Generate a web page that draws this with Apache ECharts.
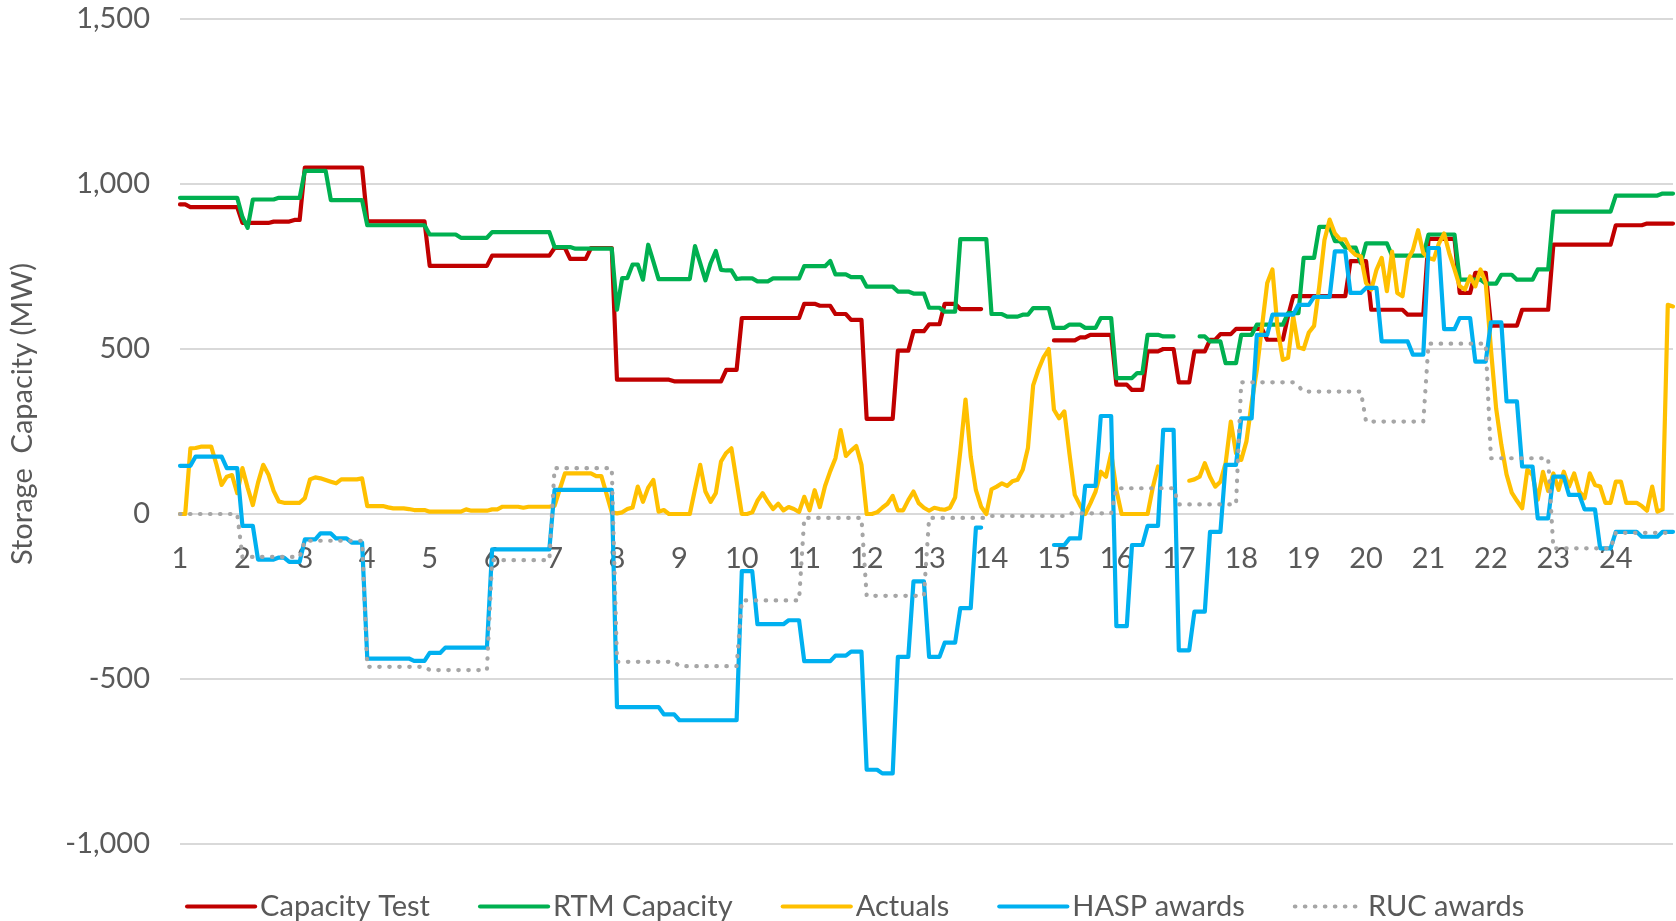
<!DOCTYPE html>
<html>
<head>
<meta charset="utf-8">
<title>Storage Capacity</title>
<script src="https://cdn.jsdelivr.net/npm/echarts@6/dist/echarts.min.js"></script>
<style>
    html, body { margin: 0; padding: 0; background: #ffffff; }
    #chart { width: 1676px; height: 921px; }
</style>
</head>
<body>
<div id="chart"></div>
<script>
// 5-minute intervals for hour ending 1..24
var hours = [1, 2, 3, 4, 5, 6, 7, 8, 9, 10, 11, 12, 13, 14, 15, 16, 17, 18, 19, 20, 21, 22, 23, 24];
var minutes = ['00', '05', '10', '15', '20', '25', '30', '35', '40', '45', '50', '55'];
var yTicks = [-1000, -500, 0, 500, 1000, 1500];

// step series kept as [value, number of 5-min points]
var capacityTestRuns = [
    [938, 2], [930, 10], [882, 6], [886, 4], [891, 2], [1050, 12], [887, 12], [752, 12], [783, 12],
    [806, 3], [773, 4], [806, 5], [407, 11], [402, 10], [437, 3], [594, 12], [637, 3], [631, 3],
    [606, 3], [588, 3], [288, 6], [495, 3], [554, 3], [575, 3], [637, 3], [621, 5], [null, 13],
    [526, 5], [535, 2], [543, 5], [392, 3], [376, 3], [493, 3], [500, 3], [399, 3], [493, 3],
    [528, 2], [545, 3], [561, 6], [528, 4], [600, 1], [660, 11], [766, 4], [619, 7], [604, 4],
    [834, 6], [670, 3], [731, 3], [571, 6], [619, 6], [816, 12], [875, 6], [880, 6]
];

var rtmCapacityRuns = [
    [958, 12], [900, 1], [867, 1], [953, 5], [958, 5], [1040, 5], [951, 7], [875, 12], [847, 6],
    [837, 6], [854, 12], [809, 4], [804, 8],
    [619, 1], [715, 2], [756, 2], [710, 1], [816, 1], [765, 1], [712, 7], [812, 1], [760, 1],
    [708, 1], [760, 1], [797, 1], [740, 1], [738, 2], [712, 1],
    [714, 3], [705, 3], [714, 6], [751, 5], [767, 1], [726, 3], [718, 3], [689, 6], [674, 3],
    [668, 3], [625, 3], [613, 3], [833, 6], [606, 3], [598, 3], [604, 2], [624, 4], [564, 3],
    [574, 3], [564, 3], [594, 3], [412, 4], [427, 2], [543, 3], [538, 3], [null, 4], [538, 2],
    [523, 3], [457, 3], [543, 3], [574, 6], [609, 3], [776, 3], [870, 3], [827, 2], [807, 3],
    [760, 1], [820, 5], [783, 7], [847, 6], [710, 5], [698, 3], [725, 3], [710, 4], [741, 3],
    [916, 12], [965, 9], [971, 3]
];

// one row per hour, 12 points each
var actuals = [
    0, 0, 199, 200, 204, 204, 204, 150, 88, 113, 118, 63,
    139, 80, 27, 95, 149, 120, 70, 38, 34, 34, 34, 34,
    48, 105, 111, 108, 103, 98, 93, 105, 105, 105, 105, 108,
    24, 24, 24, 24, 20, 17, 17, 17, 15, 12, 12, 12,
    7, 7, 7, 7, 7, 7, 7, 14, 10, 10, 10, 10,
    14, 14, 22, 22, 22, 22, 19, 22, 22, 22, 22, 22,
    25, 75, 123, 123, 123, 123, 123, 123, 115, 115, 60, 5,
    2, 5, 15, 20, 83, 37, 80, 103, 7, 12, 0, 0,
    0, 0, 0, 75, 149, 68, 37, 63, 159, 185, 199, 99,
    0, 0, 5, 40, 63, 37, 15, 31, 11, 21, 15, 6,
    52, 11, 72, 21, 85, 130, 169, 254, 176, 192, 206, 149,
    0, 0, 5, 19, 31, 55, 11, 11, 42, 68, 33, 19,
    10, 19, 15, 13, 19, 50, 190, 347, 174, 72, 22, 0,
    75, 83, 93, 85, 99, 104, 134, 200, 390, 437, 475, 500,
    316, 290, 311, 180, 58, 27, 0, 32, 68, 128, 113, 184,
    73, 0, 0, 0, 0, 0, 0, 80, 144, null, null, null,
    null, null, 101, 105, 113, 154, 113, 83, 98, 154, 280, 184,
    164, 220, 336, 437, 569, 700, 741, 560, 467, 473, 599, 505,
    500, 550, 570, 690, 830, 892, 850, 832, 832, 800, 785, 781,
    700, 680, 740, 776, 675, 795, 670, 660, 770, 800, 860, 791,
    776, 771, 820, 850, 790, 741, 690, 680, 720, 690, 741, 700,
    500, 320, 210, 120, 65, 40, 17, 134, 118, 43, 128, 70,
    123, 73, 128, 83, 123, 68, 48, 123, 88, 83, 34, 34,
    98, 98, 34, 34, 34, 24, 10, 83, 7, 14, 634, 629
];

var haspAwardsRuns = [
    [146, 3], [174, 6], [139, 3], [-36, 3], [-138, 4], [-132, 2], [-145, 3], [-77, 3], [-59, 3],
    [-74, 3], [-87, 3], [-438, 9], [-445, 3], [-421, 3], [-405, 9], [-107, 12], [73, 12],
    [-585, 9], [-607, 3], [-625, 12], [-173, 3], [-334, 6], [-322, 3], [-446, 6], [-429, 3],
    [-417, 3], [-775, 3], [-786, 3], [-433, 3], [-204, 3], [-433, 3], [-390, 3], [-285, 3],
    [-41, 2], [null, 13], [-94, 3], [-74, 3], [85, 3], [297, 3], [-340, 3], [-94, 3], [-36, 3],
    [255, 3], [-413, 3], [-296, 3], [-54, 3], [149, 3], [290, 3], [543, 3], [604, 5], [634, 3],
    [658, 4], [796, 3], [670, 3], [685, 3], [523, 6], [483, 3], [806, 3], [560, 3], [594, 3],
    [462, 3], [581, 3], [341, 3], [144, 3], [-13, 3], [113, 3], [58, 3], [14, 3], [-104, 3],
    [-54, 5], [-69, 4], [-54, 3]
];

var rucAwardsRuns = [
    [0, 12], [-130, 12], [-81, 12], [-463, 12], [-473, 12], [-140, 12], [139, 12], [-448, 12],
    [-461, 12], [-262, 12], [-12, 12], [-248, 12], [-12, 12], [-6, 15], [2, 9], [78, 12],
    [29, 12], [399, 11], [387, 1], [371, 12], [280, 12], [516, 12], [169, 12], [-104, 12],
    [-57, 12]
];

function expand(runs) {
    var out = [];
    runs.forEach(function (r) {
        for (var k = 0; k < r[1]; k++) out.push(r[0]);
    });
    return out;
}

var categories = [];
hours.forEach(function (h) {
    minutes.forEach(function (m) { categories.push(h + ':' + m); });
});

var font = 'Lato';
var fontSize = 29;
var textColor = '#595959';
var lineWidth = 4.2;

function lineSeries(name, data, color, type) {
    return {
        name: name,
        type: 'line',
        data: data,
        symbol: 'none',
        showSymbol: false,
        connectNulls: false,
        lineStyle: { color: color, width: lineWidth, type: type || 'solid', cap: 'round', join: 'round' },
        itemStyle: { color: color },
        emphasis: { disabled: true }
    };
}

var chart = echarts.init(document.getElementById('chart'));
var option = {
    animation: false,
    backgroundColor: '#ffffff',
    grid: { left: 180, right: 3, top: 19, bottom: 77 },
    xAxis: {
        type: 'category',
        position: 'bottom',
        // labels sit just under the zero line, as in the original
        offset: -330,
        boundaryGap: false,
        data: categories,
        axisLine: { show: true, onZero: false, lineStyle: { color: '#D9D9D9', width: 2 } },
        axisTick: { show: false },
        splitLine: { show: false },
        axisLabel: {
            interval: 11,
            margin: 30,
            color: textColor,
            fontFamily: font,
            fontSize: fontSize,
            formatter: function (v) { return v.split(':')[0]; }
        }
    },
    yAxis: {
        type: 'value',
        min: yTicks[0],
        max: yTicks[yTicks.length - 1],
        interval: 500,
        axisLine: { show: false },
        axisTick: { show: false },
        splitLine: { lineStyle: { color: '#D9D9D9', width: 2 } },
        axisLabel: {
            margin: 30,
            color: textColor,
            fontFamily: font,
            fontSize: fontSize,
            formatter: function (v) { return v.toLocaleString('en-US'); }
        }
    },
    legend: {
        left: 185,
        top: 892,
        padding: 0,
        itemWidth: 68,
        itemHeight: 14,
        itemGap: 48,
        itemStyle: { opacity: 0 },
        lineStyle: { width: lineWidth },
        textStyle: { color: textColor, fontFamily: font, fontSize: fontSize },
        data: ['Capacity Test', 'RTM Capacity', 'Actuals', 'HASP awards', 'RUC awards']
    },
    graphic: [{
        type: 'text',
        x: 23,
        y: 414,
        rotation: Math.PI / 2,
        style: {
            text: 'Storage  Capacity (MW)',
            font: fontSize + 'px Lato',
            fill: textColor,
            align: 'center',
            verticalAlign: 'middle'
        }
    }],
    series: [
        lineSeries('Capacity Test', expand(capacityTestRuns), '#C00000'),
        lineSeries('RTM Capacity', expand(rtmCapacityRuns), '#00B050'),
        lineSeries('Actuals', actuals, '#FFC000'),
        lineSeries('HASP awards', expand(haspAwardsRuns), '#00B0F0'),
        lineSeries('RUC awards', expand(rucAwardsRuns), '#A6A6A6', [0.5, 9.5])
    ]
};
chart.setOption(option);
</script>
</body>
</html>
